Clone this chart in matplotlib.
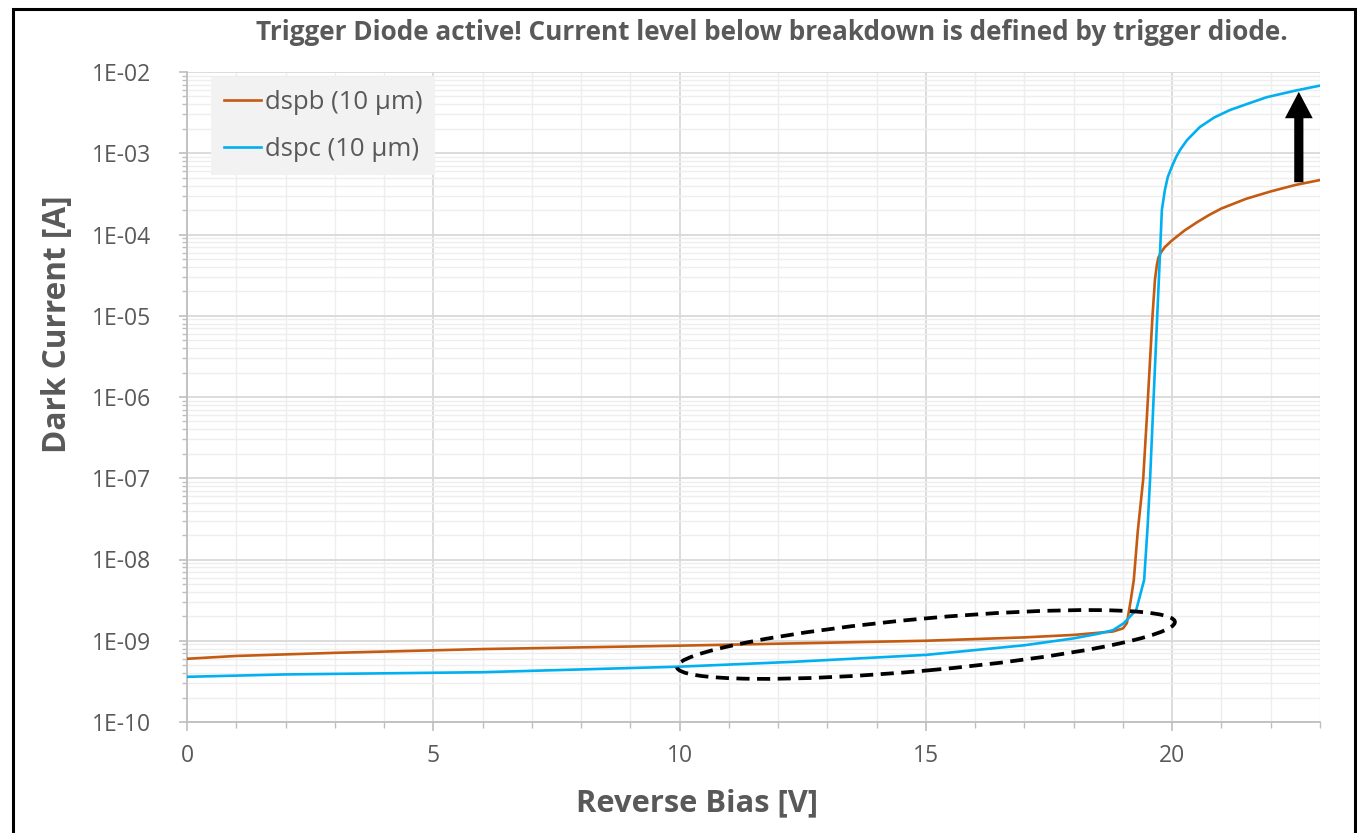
import numpy as np
import matplotlib
matplotlib.use("Agg")
import matplotlib.pyplot as plt
from matplotlib.patches import Ellipse, Rectangle
from matplotlib.transforms import IdentityTransform
from matplotlib.ticker import LogLocator, FixedLocator, MultipleLocator, NullFormatter

# ---------------- data ----------------
dspb_v = [0, 1, 3, 6, 10, 12, 15, 17, 18, 18.8, 19.0, 19.08, 19.16, 19.22, 19.3, 19.41, 19.49, 19.55,
          19.6, 19.65, 19.69, 19.72, 19.77, 19.85, 20.0, 20.25, 20.5, 20.75, 21.0, 21.5, 22.0, 22.5, 23.0]
dspb_i = [6.0e-10, 6.5e-10, 7.1e-10, 7.9e-10, 8.7e-10, 9.2e-10, 1.0e-9, 1.1e-9, 1.18e-9, 1.3e-9, 1.42e-9,
          1.65e-9, 3.2e-9, 5.6e-9, 2.2e-8, 9.6e-8, 6.3e-7, 2.85e-6,
          1.0e-5, 2.8e-5, 4.3e-5, 5.2e-5, 6.0e-5, 7.0e-5, 8.5e-5, 1.12e-4, 1.41e-4, 1.74e-4, 2.09e-4,
          2.75e-4, 3.39e-4, 4.07e-4, 4.68e-4]

dspc_v = [0, 2, 6, 10, 12.3, 15, 17, 18, 18.5, 18.8, 19.02, 19.27, 19.43, 19.5, 19.55, 19.61, 19.67,
          19.73, 19.79, 19.85, 19.91, 20.0, 20.08, 20.16, 20.3, 20.56, 20.85, 21.17, 21.5, 21.92,
          22.5, 23.0]
dspc_i = [3.6e-10, 3.85e-10, 4.1e-10, 4.8e-10, 5.5e-10, 6.7e-10, 8.8e-10, 1.07e-9, 1.22e-9, 1.35e-9, 1.65e-9,
          2.4e-9, 5.6e-9, 2.5e-8, 9.6e-8, 6.6e-7, 4.4e-6,
          2.9e-5, 2.0e-4, 3.5e-4, 5.1e-4, 7.0e-4, 9.0e-4, 1.1e-3, 1.45e-3, 2.1e-3, 2.75e-3, 3.4e-3,
          4.0e-3, 4.9e-3, 5.9e-3, 6.8e-3]

series_labels = ["dspb (10 µm)", "dspc (10 µm)"]
ytick_vals = [1e-10, 1e-9, 1e-8, 1e-7, 1e-6, 1e-5, 1e-4, 1e-3, 1e-2]
ytick_labels = ["1E-10", "1E-09", "1E-08", "1E-07", "1E-06", "1E-05", "1E-04", "1E-03", "1E-02"]
xtick_vals = [0, 5, 10, 15, 20]

title = "Trigger Diode active! Current level below breakdown is defined by trigger diode."
xlabel = "Reverse Bias [V]"
ylabel = "Dark Current [A]"

# ---------------- style ----------------
FONT = "Open Sans"
TXT = "#595959"
ORANGE = "#c55a11"
BLUE = "#00b0f0"

W, H = 1357, 833
fig = plt.figure(figsize=(W / 100, H / 100), dpi=100)
ax = fig.add_axes([187 / W, 1 - 722 / H, (1320 - 187) / W, (722 - 72) / H])

ax.set_yscale("log")
ax.set_xlim(0, 23)
ax.set_ylim(1e-10, 1e-2)

ax.plot(dspb_v, dspb_i, color=ORANGE, lw=1.9, label=series_labels[0], zorder=3)
ax.plot(dspc_v, dspc_i, color=BLUE, lw=1.9, label=series_labels[1], zorder=3)

# ticks
ax.yaxis.set_major_locator(FixedLocator(ytick_vals))
ax.set_yticklabels(ytick_labels)
ax.yaxis.set_minor_locator(LogLocator(base=10, subs=np.arange(2, 10), numticks=50))
ax.yaxis.set_minor_formatter(NullFormatter())
ax.xaxis.set_major_locator(FixedLocator(xtick_vals))
ax.xaxis.set_minor_locator(MultipleLocator(1))

ax.tick_params(axis="both", which="both", colors="#bfbfbf", labelcolor=TXT, labelsize=16.5)
ax.tick_params(axis="y", which="major", length=5.8, width=1.2, pad=20)
ax.tick_params(axis="y", which="minor", length=3.6, width=1.0)
ax.tick_params(axis="x", which="major", length=6.5, width=1.2, pad=9)
ax.tick_params(axis="x", which="minor", length=4, width=1.0)
for lab in ax.get_xticklabels() + ax.get_yticklabels():
    lab.set_fontfamily(FONT)

ax.grid(which="major", color="#d9d9d9", lw=1.3, zorder=0)
ax.grid(which="minor", color="#eeeeee", lw=1.0, zorder=0)
ax.set_axisbelow(True)

for s in ["top", "right"]:
    ax.spines[s].set_visible(False)
for s in ["left", "bottom"]:
    ax.spines[s].set_color("#bfbfbf")
    ax.spines[s].set_linewidth(1.3)

# legend
leg = ax.legend(loc="upper left", bbox_to_anchor=(0.021, 0.992), borderaxespad=0,
                frameon=True, fancybox=False, facecolor="#f2f2f2", edgecolor="none", framealpha=1,
                prop={"family": FONT, "size": 18.5}, handlelength=1.45, handletextpad=0.15,
                labelspacing=0.85, borderpad=0.5)
for t in leg.get_texts():
    t.set_color(TXT)

# texts
renderer = fig.canvas.get_renderer()


def fit(t, target, vertical=False):
    bb = t.get_window_extent(renderer)
    cur = bb.height if vertical else bb.width
    t.set_fontsize(t.get_fontsize() * target / cur)


t1 = fig.text(772 / W, 1 - 32 / H, title, ha="center", va="center", fontsize=15,
              fontweight="bold", color=TXT, family=FONT)
fit(t1, 1035)
t2 = fig.text(697 / W, 1 - 803 / H, xlabel, ha="center", va="center", fontsize=18,
              fontweight="bold", color=TXT, family=FONT)
fit(t2, 243)
t3 = fig.text(58 / W, 1 - 324 / H, ylabel, ha="center", va="center", fontsize=18,
              fontweight="bold", color=TXT, family=FONT, rotation=90)
fit(t3, 258, vertical=True)

# arrow
ax.annotate("", xy=(22.57, 5.7e-3), xytext=(22.57, 4.4e-4),
            arrowprops=dict(arrowstyle="simple,head_length=0.95,head_width=1.0,tail_width=0.33",
                            mutation_scale=20, facecolor="black", edgecolor="black", lw=0,
                            shrinkA=0, shrinkB=0), zorder=5)

# dashed ellipse (display coords)
fig.canvas.draw()
cx, cy = ax.transData.transform((15.0, 9.0e-10))
ell = Ellipse((cx, cy), width=500, height=52, angle=5.2, transform=IdentityTransform(),
              fill=False, edgecolor="black", lw=2.7, linestyle=(0, (3.5, 2.0)), zorder=6)
fig.add_artist(ell)

# outer frame
fig.add_artist(Rectangle((13 / W, -0.05), (1355 - 13) / W, 1.05 - 9 / H, transform=fig.transFigure,
                         fill=False, edgecolor="black", lw=2.2, clip_on=False))

fig.savefig("out.png", dpi=100)
